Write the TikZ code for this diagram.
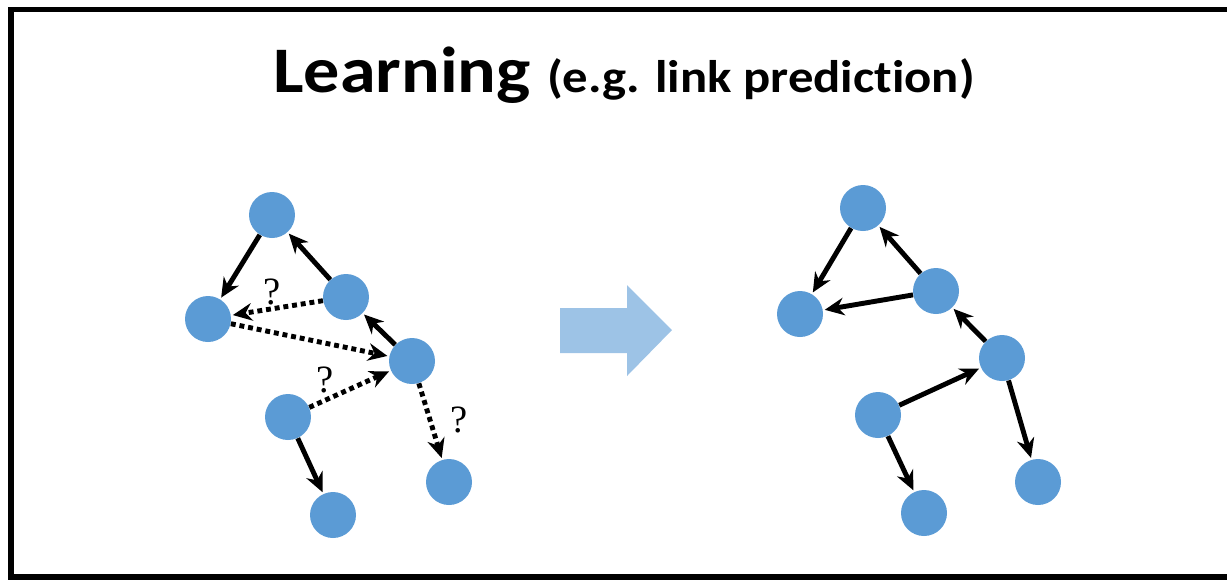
\documentclass[tikz,border=0pt]{standalone}
\usepackage{fontspec}
\setmainfont{Liberation Serif}
\newfontfamily\titlefont[Ligatures=NoCommon]{Carlito}
\usepackage{xcolor}
\usetikzlibrary{arrows.meta, calc}

\definecolor{nodeblue}{RGB}{91,155,213}
\definecolor{arrowblue}{RGB}{157,195,230}

\begin{document}
\begin{tikzpicture}[
    x=0.02cm, y=-0.02cm,
    vertex/.style={circle, fill=nodeblue, minimum size=0.92cm, inner sep=0pt},
    edge/.style={line width=2.8pt, -{Stealth[length=11pt, width=10pt]}, shorten >=1pt},
    guess/.style={edge, dash pattern=on 2.8pt off 2.2pt},
    qmark/.style={font=\fontsize{22}{22}\selectfont}
]
\useasboundingbox (0,0) rectangle (1227,579);
\draw[line width=3.2pt] (1240,9.5) -- (11,9.5) -- (11,577) -- (1240,577);

% title
\node (title) [anchor=base] at (624,92)
  {\scalebox{1.11}[1]{\titlefont\bfseries\fontsize{37}{37}\selectfont Learning
   \fontsize{26}{26}\selectfont(e.g. link prediction)}};

% left graph (before)
\node (la) [vertex] at (272,215) {};
\node (lb) [vertex] at (208,319) {};
\node (lc) [vertex] at (346,297) {};
\node (ld) [vertex] at (412,361) {};
\node (le) [vertex] at (288,417) {};
\node (lf) [vertex] at (333,515) {};
\node (lg) [vertex] at (449,482) {};
\foreach \a/\b in {la/lb, lc/la, ld/lc, le/lf}
  \draw[edge] (\a) -- (\b);
\foreach \a/\b in {lc/lb, lb/ld, le/ld, ld/lg}
  \draw[guess] (\a) -- (\b);
\node (q1) [qmark] at (272,292) {?};
\node (q2) [qmark] at (325,380) {?};
\node (q3) [qmark] at (459,420) {?};

% block arrow
\fill[arrowblue] (560,308) -- (627,308) -- (627,285) -- (672,330)
  -- (627,376) -- (627,353) -- (560,353) -- cycle;

% right graph (after)
\node (ra) [vertex] at (863,208) {};
\node (rb) [vertex] at (800,314) {};
\node (rc) [vertex] at (936,291) {};
\node (rd) [vertex] at (1002,358) {};
\node (re) [vertex] at (878,415) {};
\node (rf) [vertex] at (924,513) {};
\node (rg) [vertex] at (1038,482) {};
\foreach \a/\b in {ra/rb, rc/ra, rc/rb, rd/rc, re/rd, rd/rg, re/rf}
  \draw[edge] (\a) -- (\b);
\end{tikzpicture}
\end{document}
